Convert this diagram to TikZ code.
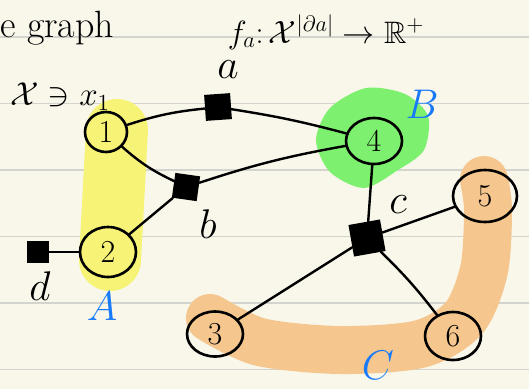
\documentclass[tikz,border=0pt]{standalone}
\usepackage{amssymb}
\usetikzlibrary{shapes.geometric}

\definecolor{paper}{RGB}{249,247,234}
\definecolor{ruleline}{RGB}{212,212,206}
\definecolor{hlyellow}{RGB}{246,243,118}
\definecolor{hlgreen}{RGB}{126,240,112}
\definecolor{hlorange}{RGB}{245,198,142}
\definecolor{inkblue}{RGB}{22,122,250}

\begin{document}
\begin{tikzpicture}[x=1pt, y=-1pt,
    var/.style={ellipse, draw=black, line width=2.6pt, inner sep=0pt, font=\fontsize{32}{32}\selectfont},
    fac/.style={rectangle, fill=black, inner sep=0pt, minimum size=#1},
    link/.style={line width=2.4pt, black, line cap=round},
    hand/.style={font=\fontsize{20}{20}\selectfont, scale=#1},
    hand/.default=2,
    tag/.style={inkblue, font=\fontsize{20}{20}\selectfont, scale=2}]
    % Paper and ruled lines
    \useasboundingbox (0,0) rectangle (529,389);
    \fill[paper] (0,0) rectangle (529,389);
    \foreach \k in {0,...,5}
        \draw[ruleline, line width=1.6pt] (0,37+66.5*\k) -- (529,37+66.5*\k);

    % Highlighted groups
    \draw[hlyellow, line width=62pt, line cap=round] (117,130) -- (110,260);
    \fill[hlgreen] plot[smooth cycle] coordinates {(330,108) (366,88) (405,94) (428,116) (424,150) (398,170) (364,188) (330,172) (316,140)};
    \draw[hlorange, line width=48pt, line cap=round, line join=round]
        plot[smooth] coordinates {(210,318) (260,342) (340,350) (420,344) (464,318) (484,270) (488,210) (484,180)};

    % Headings
    \node[anchor=west, inner sep=0pt, font=\fontsize{38}{38}\selectfont] (title) at (0,28) {e graph};
    \node[hand=1.55] (fdef) at (326,32) {$f_a\colon \mathcal{X}^{|\partial a|}\to\mathbb{R}^{+}$};
    \node[hand=1.6] (dom) at (60,97) {$\mathcal{X}\ni x_1$};

    % Variables
    \node[var, minimum width=42pt, minimum height=40pt] (x1) at (106,132) {1};
    \node[var, minimum width=56pt, minimum height=50pt] (x2) at (108,252) {2};
    \node[var, minimum width=56pt, minimum height=45pt] (x3) at (215,334) {3};
    \node[var, minimum width=56pt, minimum height=46pt] (x4) at (374,141) {4};
    \node[var, minimum width=64pt, minimum height=52pt] (x5) at (485,196) {5};
    \node[var, minimum width=56pt, minimum height=48pt] (x6) at (453,336) {6};

    % Factors
    \node[fac=26pt, rotate=4] (fa) at (218,107) {};
    \node[fac=25pt, rotate=-8] (fb) at (186,187) {};
    \node[fac=32pt, rotate=10] (fc) at (367,238) {};
    \node[fac=22pt] (fd) at (38,252) {};

    % Factor labels
    \node[hand] (la) at (228,70) {$a$};
    \node[hand] (lb) at (208,224) {$b$};
    \node[hand] (lc) at (398,205) {$c$};
    \node[hand] (ld) at (40,286) {$d$};

    % Group labels
    \node[tag] (ga) at (102,306) {$A$};
    \node[tag] (gb) at (422,104) {$B$};
    \node[tag] (gc) at (378,365) {$C$};

    % Connections
    \draw[link] (x1) to[bend left=6] (fa);
    \draw[link] (fa) to[bend left=3] (x4);
    \draw[link] (x1) to[bend right=8] (fb);
    \draw[link] (fb) to[bend left=4] (x4);
    \draw[link] (x2) -- (fb);
    \draw[link] (fd) -- (x2);
    \draw[link] (x4) -- (fc);
    \draw[link] (fc) -- (x5);
    \draw[link] (fc) -- (x3);
    \draw[link] (fc) to[bend left=4] (x6);
\end{tikzpicture}
\end{document}
